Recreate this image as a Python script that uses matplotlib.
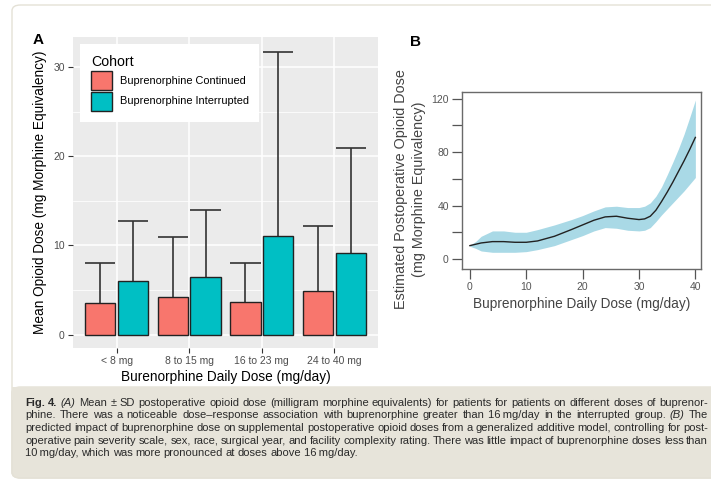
import numpy as np
import matplotlib
matplotlib.use("Agg")
import matplotlib.pyplot as plt
from matplotlib.patches import Patch, FancyBboxPatch, Rectangle
from matplotlib.font_manager import FontProperties, findfont

# ---- data ----
doses = ["< 8 mg", "8 to 15 mg", "16 to 23 mg", "24 to 40 mg"]
cont_mean = [3.5, 4.2, 3.6, 4.9]
cont_sd = [4.5, 6.75, 4.4, 7.25]
int_mean = [6.05, 6.45, 11.05, 9.15]
int_sd = [6.7, 7.5, 20.65, 11.75]
cohorts = ["Buprenorphine Continued", "Buprenorphine Interrupted"]

gam_dose = [0, 1, 2, 4, 6, 8, 10, 12, 15, 18, 20, 22, 24, 26, 28, 30,
            31, 32, 33, 34, 35, 36, 37, 38, 39, 40]
gam_fit = [10, 11, 12, 13, 13, 12.5, 12.5, 13.5, 17, 22, 25.5, 29, 31.5, 32,
           30.5, 29.5, 30, 32, 36.5, 43, 50, 57.5, 65.5, 73.5, 82, 91]
gam_lo = [9.5, 8, 6, 5, 5, 5, 5.5, 7, 10, 14.5, 17.5, 21, 23.5, 23, 21.5, 21,
          21.5, 23.5, 28, 33, 37.5, 42, 46.5, 51, 56, 61]
gam_hi = [10.5, 13, 17, 21, 21, 20, 20, 22, 25.5, 29.5, 32.5, 36, 39, 39.5,
          38.5, 38.5, 39.5, 42, 47, 54, 63, 72.5, 82.5, 93.5, 106, 119]

caption = [
    "Fig. 4. (A) Mean \u00b1 SD postoperative opioid dose (milligram morphine equivalents) for patients for patients on different doses of buprenor-",
    "phine. There was a noticeable dose\u2013response association with buprenorphine greater than 16\u2009mg/day in the interrupted group. (B) The",
    "predicted impact of buprenorphine dose on supplemental postoperative opioid doses from a generalized additive model, controlling for post-",
    "operative pain severity scale, sex, race, surgical year, and facility complexity rating. There was little impact of buprenorphine doses less than",
    "10\u2009mg/day, which was more pronounced at doses above 16\u2009mg/day.",
]


def pick_font(names):
    for n in names:
        try:
            findfont(FontProperties(family=n), fallback_to_default=False)
            return n
        except ValueError:
            pass
    return "DejaVu Sans"


SANS = pick_font(["Liberation Sans", "Arial", "DejaVu Sans"])
NARROW = pick_font(["Liberation Sans Narrow", "Arial Narrow", SANS])
plt.rcParams["font.family"] = [SANS, "DejaVu Sans"]

W, H = 711, 482
fig = plt.figure(figsize=(W / 100, H / 100), dpi=100)
fig.patch.set_facecolor("white")


def fx(px):
    return px / W


def fy(py):
    return 1 - py / H


# outer frame and caption box (behind the axes)
frame = FancyBboxPatch((fx(12), fy(478)), fx(740), fy(5) - fy(478),
                       boxstyle="round,pad=0,rounding_size=0.012",
                       transform=fig.transFigure, facecolor="white",
                       edgecolor="#e4e1d6", lw=1.0, zorder=-10)
fig.patches.append(frame)
capbox = FancyBboxPatch((fx(12), fy(478)), fx(740), fy(387) - fy(478),
                        boxstyle="round,pad=0,rounding_size=0.012",
                        transform=fig.transFigure, facecolor="#e7e4da",
                        edgecolor="#e4e1d6", lw=1.0, zorder=-9)
fig.patches.append(capbox)
fig.patches.append(Rectangle((fx(12), fy(400)), fx(740), fy(387) - fy(400),
                             transform=fig.transFigure, facecolor="#e7e4da",
                             edgecolor="none", zorder=-8))

# ---- panel A : bar chart ----
axA = fig.add_axes([fx(73), fy(348), fx(378) - fx(73), fy(37) - fy(348)])
axA.set_facecolor("#EBEBEB")
x = np.arange(1, len(doses) + 1)
off, bw = 0.225, 0.415
red, teal = "#F8766D", "#00BFC4"
for xs, m, sd, col in [(x - off, cont_mean, cont_sd, red),
                       (x + off, int_mean, int_sd, teal)]:
    m = np.array(m)
    top = m + np.array(sd)
    axA.vlines(xs, m, top, color="#333333", lw=1.2, zorder=2)
    axA.hlines(top, xs - bw / 2, xs + bw / 2, color="#333333", lw=1.2, zorder=2)
    axA.bar(xs, m, width=bw, color=col, edgecolor="#222222", lw=1.0, zorder=3)

axA.set_xlim(0.4, 4.6)
axA.set_ylim(-1.5, 33.35)
axA.set_xticks(x)
axA.set_xticklabels(doses)
axA.set_yticks([0, 10, 20, 30])
axA.set_yticks([5, 15, 25], minor=True)
axA.set_axisbelow(True)
axA.grid(which="major", color="white", lw=1.1)
axA.grid(which="minor", axis="y", color="white", lw=0.55)
for s in axA.spines.values():
    s.set_visible(False)
axA.tick_params(which="major", length=3.5, width=0.8, color="#333333",
                labelsize=7.5, labelcolor="#4D4D4D", pad=2.5)
axA.tick_params(which="minor", length=0)
axA.set_xlabel("Burenorphine Daily Dose (mg/day)", fontsize=9.8, labelpad=2.5)
axA.set_ylabel("Mean Opioid Dose (mg Morphine Equivalency)", fontsize=9.8,
               labelpad=4)
handles = [Patch(facecolor=red, edgecolor="#222222", lw=1.0),
           Patch(facecolor=teal, edgecolor="#222222", lw=1.0)]
leg = axA.legend(handles, cohorts, title="Cohort", loc="upper left",
                 bbox_to_anchor=(0.023, 0.977), borderaxespad=0,
                 fontsize=7.9, title_fontsize=10.2, frameon=True,
                 fancybox=False, edgecolor="none", framealpha=1,
                 handlelength=1.95, handleheight=2.3, labelspacing=0.15,
                 handletextpad=0.65, borderpad=1.0, alignment="left")
fig.text(fx(33), fy(40), "A", fontsize=11, fontweight="bold",
         ha="left", va="center")

# ---- panel B : GAM curve ----
axB = fig.add_axes([fx(462), fy(269), fx(701) - fx(462), fy(92) - fy(269)])
axB.fill_between(gam_dose, gam_lo, gam_hi, color="#a9d9e6", lw=0, zorder=1)
axB.plot(gam_dose, gam_fit, color="#222222", lw=1.0, zorder=2)
axB.set_xlim(-1.4, 41)
axB.set_ylim(-7.5, 125)
axB.set_xticks([0, 10, 20, 30, 40])
axB.set_yticks([0, 20, 40, 60, 80, 100, 120])
axB.set_yticklabels(["0", "", "40", "", "80", "", "120"])
for s in axB.spines.values():
    s.set_color("#6a6a6a")
    s.set_linewidth(1.0)
axB.tick_params(length=7, width=0.9, color="#555555", labelsize=7.5,
                labelcolor="#555555", pad=2.5)
axB.set_xlabel("Buprenorphine Daily Dose (mg/day)", fontsize=9.8,
               color="#444444", labelpad=3.5)
fig.text(fx(410), fy(189),
         "Estimated Postoperative Opioid Dose\n(mg Morphine Equivalency)",
         rotation=90, ha="center", va="center", fontsize=10.4,
         color="#444444", multialignment="center", linespacing=1.3)
fig.text(fx(410), fy(42), "B", fontsize=11, fontweight="bold",
         ha="left", va="center")

# ---- caption, justified word by word ----
r = fig.canvas.get_renderer()
left_px, right_px = 25, 708
line_y = [403, 415.5, 428, 440.5, 453]


def word_prop(word, i, j, size):
    weight = "bold" if (i == 0 and j < 2) else "normal"
    style = "italic" if word in ("(A)", "(B)") else "normal"
    return FontProperties(family=[NARROW, "DejaVu Sans"], size=size,
                          weight=weight, style=style)


def natural_width(words, i, size):
    ws = [r.get_text_width_height_descent(w, word_prop(w, i, j, size), ismath=False)[0]
          for j, w in enumerate(words)]
    return ws


cap_size = 8.0
widest = 0
for i, line in enumerate(caption[:4]):
    words = line.split(" ")
    ws = natural_width(words, i, cap_size)
    widest = max(widest, sum(ws) + 0.22 * cap_size * 100 / 72 * (len(words) - 1))
if widest > right_px - left_px:
    cap_size *= (right_px - left_px) / widest

for i, line in enumerate(caption):
    words = line.split(" ")
    ws = natural_width(words, i, cap_size)
    if i < 4:
        gap = (right_px - left_px - sum(ws)) / (len(words) - 1)
    else:
        gap = 0.25 * cap_size * 100 / 72
    xp = left_px
    for j, (w, wd) in enumerate(zip(words, ws)):
        fig.text(fx(xp), fy(line_y[i]), w, fontproperties=word_prop(w, i, j, cap_size),
                 ha="left", va="center", color="#2a2a2a")
        xp += wd + gap

fig.savefig("out.png", dpi=100, facecolor="white")
